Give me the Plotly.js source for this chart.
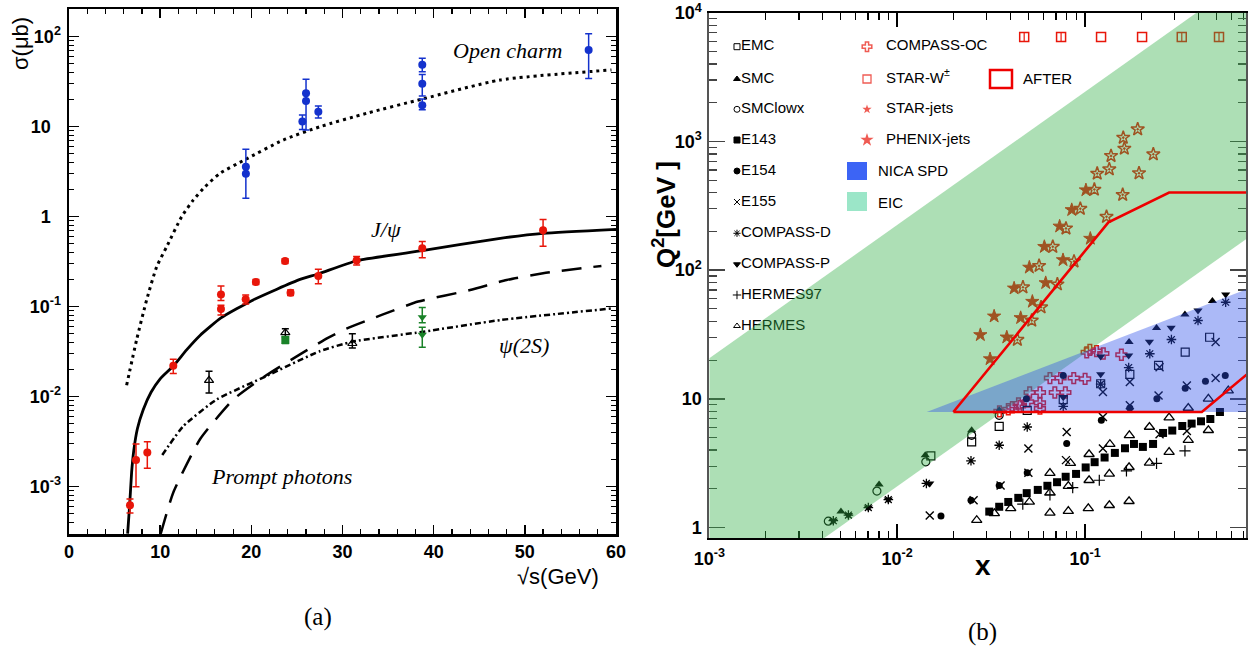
<!DOCTYPE html>
<html><head><meta charset="utf-8">
<script src="https://cdn.plot.ly/plotly-3.0.1.min.js"></script>
<style>html,body{margin:0;padding:0;background:#fff}#chart{width:1248px;height:648px}</style>
</head><body><div id="chart"></div>
<script>
// ================= Panel (a) data =================
const ocX = [6.32,7.42,8.52,9.62,10.72,12.36,13.63,14.92,16.56,19.38,23.5,27.53,32.65,38.75,47.27,59.5];
const ocY = [0.0134,0.043,0.119,0.278,0.465,1.0,1.53,2.15,3.03,4.34,7.11,10.0,14.1,20.3,33.0,42.7];
const jpX = [6.43,6.65,6.87,7.1,7.5,8.15,9.0,10.0,11.44,12.9,14.37,16.67,20.2,25.34,27.35,31.55,38.75,47.3,52,60];
const jpY = [3.0e-4,6.2e-4,1.45e-3,2.5e-3,4.4e-3,7.2e-3,0.0112,0.0158,0.0219,0.0331,0.0479,0.075,0.119,0.201,0.231,0.324,0.419,0.575,0.653,0.723];
const phX = [10.06,11.44,14.37,18.02,21.68,25.34,28.4,30.5,34.3,38.3,44,48,52,58.4];
const phY = [3.0e-4,8.6e-4,3.36e-3,9.3e-3,0.0174,0.0295,0.045,0.0575,0.081,0.114,0.153,0.198,0.235,0.284];
const psX = [10.23,12.54,16.2,21.68,27.5,31.08,38.86,47.3,59.7];
const psY = [2.25e-3,4.7e-3,9.3e-3,0.017,0.032,0.0408,0.0527,0.071,0.096];

const ocDataX = [19.4,19.4,25.6,26.0,26.0,27.35,38.75,38.75,38.75,57.0];
const ocDataY = [3.6,3.0,11.4,23.5,19.3,14.7,48.9,30.0,17.3,71.0];
const ocErrP  = [2.0,0.6,2.1,10.1,4.2,2.3,8.6,8.0,3.0,37];
const ocErrM  = [0.6,1.4,2.1,4.2,10.1,2.2,8.0,8.0,1.9,36.6];

const jpDataX = [6.69,7.35,8.59,11.44,16.67,16.67,19.38,20.5,23.7,24.3,27.35,31.55,38.75,52.0];
const jpDataY = [6.2e-4,1.98e-3,2.39e-3,0.0221,0.137,0.094,0.121,0.188,0.322,0.143,0.219,0.325,0.445,0.706];
const jpErrP  = [1.1e-4,1.0e-3,0.77e-3,0.004,0.033,0.01,0.014,0.012,0.02,0.01,0.041,0.035,0.085,0.224];
const jpErrM  = [1.1e-4,0.98e-3,0.79e-3,0.004,0.02,0.013,0.014,0.012,0.02,0.01,0.039,0.035,0.095,0.236];

const psDataX = [15.36,23.73,31.08];
const psDataY = [0.0152,0.0514,0.039];
const psErrP  = [0.004,0.0056,0.011];
const psErrM  = [0.0042,0.006,0.0043];

const grDataX = [23.73,38.75,38.75];
const grDataY = [0.0426,0.0762,0.0489];
const grErrP  = [0.004,0.022,0.01];
const grErrM  = [0.0036,0.01,0.0135];
const grSym   = ['square','triangle-down','triangle-down'];

// ================= Panel (b) data =================
const emcX = [0.0151,0.0249,0.0349,0.0492,0.0765,0.121,0.173,0.246,0.341,0.46];
const emcQ = [3.60,4.63,6.12,8.14,9.86,13.1,15.5,18.2,23.1,30.1];
const smcX = [0.00502,0.00801,0.0141,0.0249,0.0349,0.1714,0.24,0.34,0.476];
const smcQ = [1.33,2.16,3.65,5.70,8.14,27.7,35.5,45.2,57.5];
const smclX = [0.0043,0.0078,0.0142,0.0249,0.0349];
const smclQ = [1.12,1.92,3.24,5.21,7.45];
const e143X = [0.0309,0.0349,0.039,0.0441,0.0489,0.056,0.063,0.0709,0.0788,0.0895,0.1007,0.1124,0.127,0.144,0.163,0.182,0.203,0.23,0.26,0.291,0.329,0.369,0.414,0.464,0.522];
const e143Q = [1.33,1.45,1.58,1.70,1.85,1.96,2.11,2.25,2.48,2.61,2.93,3.22,3.50,3.80,4.13,4.46,4.23,4.46,5.43,5.67,6.15,6.42,6.69,6.97,7.90];
const e154X = [0.0171,0.0247,0.0349,0.0492,0.0798,0.122,0.0487,0.0765,0.173,0.241,0.341,0.437,0.557];
const e154Q = [1.23,1.63,2.12,2.66,4.49,6.81,10.0,15.2,8.49,10.0,12.1,13.7,15.2];
const e155X = [0.0149,0.0255,0.0355,0.0499,0.0499,0.0798,0.0791,0.1244,0.1244,0.1244,0.173,0.173,0.249,0.246,0.249,0.348,0.348,0.495,0.495];
const e155Q = [1.24,1.63,2.12,2.66,4.11,5.53,3.34,4.11,7.22,11.3,13.5,8.91,17.6,10.6,5.31,12.7,5.63,27.6,14.5];
const cdX = [0.00457,0.0055,0.00702,0.00897,0.0143,0.0247,0.0349,0.0492,0.0765,0.121,0.1706,0.221,0.288,0.399,0.56];
const cdQ = [1.13,1.25,1.43,1.65,2.2,3.30,4.36,6.04,8.75,13.0,17.5,22.4,28.9,40.6,56.3];
const cpX = [0.00457,0.0055,0.00702,0.00897,0.0149,0.0765,0.121,0.121,0.1706,0.22,0.287,0.399,0.56];
const cpQ = [1.13,1.25,1.43,1.65,2.2,10.3,15.5,21.3,21.7,27.8,35.6,48.5,64.6];
const h97X = [0.0466,0.065,0.0859,0.119,0.166,0.24,0.34];
const h97Q = [1.52,1.79,2.04,2.33,2.76,3.15,3.94];
const hermX = [0.0265,0.0329,0.0402,0.065,0.0814,0.104,0.1346,0.1714,0.0505,0.065,0.0814,0.105,0.1346,0.1714,0.22,0.28,0.354,0.453,0.065,0.0836,0.105,0.1355,0.172,0.22,0.28,0.354,0.453,0.578];
const hermQ = [1.14,1.29,1.41,1.30,1.34,1.41,1.49,1.60,1.58,1.87,2.10,2.33,2.61,2.94,3.18,3.85,4.77,5.70,2.65,3.16,3.71,4.44,5.21,6.04,7.15,8.49,10.0,11.6];
const cocX = [0.039,0.0442,0.0497,0.0575,0.0575,0.0507,0.0575,0.069,0.0785,0.065,0.074,0.087,0.1,0.102,0.106,0.115,0.125,0.156,0.035,0.041,0.045];
const cocQ = [8.3,9.2,9.5,9.3,8.4,11.2,11.2,11.2,11.2,14.5,14.5,14.5,14.3,23,24,23.5,22.5,22,8.0,8.6,8.8];
const starWX = [0.0474,0.0745,0.1216,0.201,0.327,0.516];
const starWQ = [6490,6490,6490,6490,6490,6490];
const phenixX = [0.0277,0.0312,0.0328,0.0383,0.0419,0.0454,0.0505,0.0524,0.0607,0.0617,0.0732,0.0763,0.0849,0.101,0.1066];
const phenixQ = [31.4,20.4,43.8,30.1,72.3,42.6,105,57,152,79.6,219,120,294,419,176];
const starJX = [0.0436,0.0467,0.052,0.0569,0.0583,0.0673,0.0712,0.0791,0.0873,0.0943,0.112,0.116,0.13,0.1345,0.1374,0.1585,0.1596,0.1617,0.1905,0.1936,0.2307];
const starJQ = [28.8,73.6,40.6,108,51.5,152,77.6,211,117,300,423,563,260,608,772,385,1070,880,1244,567,796];

const eicX = [0.001,1,1,0.001];
const eicQ = [20.7,26400,245,0.193];
const nicaX = [0.01435,1,1];
const nicaQ = [7.9,85,7.9];
const afterX = [0.0199,0.133,0.280,1,1,0.418,0.0199];
const afterQ = [7.9,235,401,401,22.9,7.9,7.9];

const legLeftNames = ['EMC','SMC','SMClowx','E143','E154','E155','COMPASS-D','COMPASS-P','HERMES97','HERMES'];
const legLeftSym = ['square-open','triangle-up','circle-open','square','circle','x-thin-open','asterisk-open','triangle-down','cross-thin-open','triangle-up-open'];
const legRightNames = ['COMPASS-OC','STAR-W<sup>±</sup>','STAR-jets','PHENIX-jets'];
const legRightSym = ['cross-open','square-open','star','star'];

// ================= geometry =================
const W = 1248, H = 648;
const AX = {l:69, r:616, t:9, b:534};
const BX = {l:709.3, r:1246, t:12.7, b:538};
const xr2 = [-3, -3 + (BX.r - BX.l)/187.9];
const yr2 = [(527.5 - BX.b)/129, 4.0005];
function lx(px){ return Math.pow(10, xr2[0] + (px - BX.l)/(BX.r - BX.l)*(xr2[1]-xr2[0])); }
function ly(py){ return Math.pow(10, yr2[0] + (BX.b - py)/(BX.b - BX.t)*(yr2[1]-yr2[0])); }
const legYL = [46.7,79,109.3,140,171,202,233.3,264.3,295,326];
const legYR = [46.7,79,109.3,140];

const SANS = 'Liberation Sans, Arial, Helvetica, sans-serif';
const SERIF = 'Liberation Serif, Times New Roman, serif';
const RED = 'rgb(232,22,10)';
const BLUE = 'rgb(20,50,205)';
const GREEN = 'rgb(25,130,40)';

function logMinor(d0, d1){ const a=[]; for(let d=d0; d<=d1; d++) for(let m=2; m<=9; m++) a.push(m*Math.pow(10,d)); return a; }
const xMinorA = []; for(let v=0; v<=60; v+=2) if(v%10) xMinorA.push(v);

const traces = [];
// ---- panel (a) curves ----
traces.push({x:ocX, y:ocY, mode:'lines', line:{color:'#000', width:3, dash:'3px,4px', shape:'spline', smoothing:0.6}, xaxis:'x', yaxis:'y', hoverinfo:'skip'});
traces.push({x:jpX, y:jpY, mode:'lines', line:{color:'#000', width:2.8, shape:'spline', smoothing:0.5}, xaxis:'x', yaxis:'y', hoverinfo:'skip'});
traces.push({x:phX, y:phY, mode:'lines', line:{color:'#000', width:2.5, dash:'20px,12px', shape:'spline', smoothing:0.5}, xaxis:'x', yaxis:'y', hoverinfo:'skip'});
traces.push({x:psX, y:psY, mode:'lines', line:{color:'#000', width:2.5, dash:'6px,3px,2px,3px', shape:'spline', smoothing:0.5}, xaxis:'x', yaxis:'y', hoverinfo:'skip'});
// ---- panel (a) data ----
function errPts(x,y,ep,em,color,sym,size,open){
  return {x:x, y:y, mode:'markers', xaxis:'x', yaxis:'y', hoverinfo:'skip',
    marker:{symbol:sym, size:size, color:color, line:{color:color, width:open?1.2:0}},
    error_y:{type:'data', array:ep, arrayminus:em, visible:true, color:color, thickness:1.5, width:3.5}};
}
traces.push(errPts(ocDataX, ocDataY, ocErrP, ocErrM, BLUE, 'circle', 8, false));
traces.push(errPts(jpDataX, jpDataY, jpErrP, jpErrM, RED, 'circle', 8, false));
traces.push(errPts(psDataX, psDataY, psErrP, psErrM, '#000', 'triangle-up-open', 8, true));
traces.push(errPts(grDataX, grDataY, grErrP, grErrM, GREEN, grSym, 8, false));

// ---- panel (b) data markers ----
function pts(x,y,sym,size,color,lw){
  return {x:x, y:y, mode:'markers', xaxis:'x2', yaxis:'y2', hoverinfo:'skip',
    marker:{symbol:sym, size:size, color:color||'#000', line:{color:color||'#000', width:lw===undefined?1.2:lw}}};
}
traces.push(pts(starWX, starWQ, 'square-open', 9, RED, 1.5));
traces.push(pts([starWX[0],starWX[1],starWX[4],starWX[5]], [starWQ[0],starWQ[1],starWQ[4],starWQ[5]], 'line-ns-open', 7, RED, 1.2));
traces.push(pts(phenixX, phenixQ, 'star', 10, RED, 1));
traces.push(pts(starJX, starJQ, 'star-open-dot', 10, RED, 1.5));
traces.push(pts(cocX, cocQ, 'cross-open', 9, RED, 1.5));
traces.push(pts(emcX, emcQ, 'square-open', 8));
traces.push(pts(smcX, smcQ, 'triangle-up', 8, '#000', 0));
traces.push(pts(smclX, smclQ, 'circle-open', 8));
traces.push(pts(e143X, e143Q, 'square', 8, '#000', 0));
traces.push(pts(e154X, e154Q, 'circle', 7, '#000', 0));
traces.push(pts(e155X, e155Q, 'x-thin-open', 8, '#000', 1.4));
traces.push(pts(cdX, cdQ, 'asterisk-open', 8, '#000', 1.3));
traces.push(pts(cpX, cpQ, 'triangle-down', 8, '#000', 0));
traces.push(pts(h97X, h97Q, 'cross-thin-open', 8, '#000', 1.2));
traces.push(pts(hermX, hermQ, 'triangle-up-open', 9, '#000', 1.3));

// ---- legend (drawn inside the panel, under the coloured bands) ----
traces.push({x:legYL.map(()=>lx(737)), y:legYL.map(ly), mode:'markers', xaxis:'x2', yaxis:'y2', hoverinfo:'skip',
  marker:{symbol:legLeftSym, size:6, color:'#000', line:{color:'#000', width:1}}});
traces.push({x:legYL.map(()=>lx(741)), y:legYL.map(ly), mode:'text', text:legLeftNames, textposition:'middle right',
  textfont:{family:SANS, size:15, color:'#000'}, xaxis:'x2', yaxis:'y2', hoverinfo:'skip'});
traces.push({x:legYR.map(()=>lx(867)), y:legYR.map(ly), mode:'markers', xaxis:'x2', yaxis:'y2', hoverinfo:'skip',
  marker:{symbol:legRightSym, size:[8,8,7,10], color:RED, line:{color:RED, width:[1.5,1.3,0,0]}}});
traces.push({x:legYR.map(()=>lx(886)), y:legYR.map(ly), mode:'text', text:legRightNames, textposition:'middle right',
  textfont:{family:SANS, size:15, color:'#000'}, xaxis:'x2', yaxis:'y2', hoverinfo:'skip'});

// ---- bands ----
traces.push({x:eicX, y:eicQ, mode:'lines', fill:'toself', fillcolor:'rgba(50,175,70,0.4)', line:{width:0, color:'rgba(0,0,0,0)'}, xaxis:'x2', yaxis:'y2', hoverinfo:'skip'});
traces.push({x:nicaX, y:nicaQ, mode:'lines', fill:'toself', fillcolor:'rgba(45,80,235,0.4)', line:{width:0, color:'rgba(0,0,0,0)'}, xaxis:'x2', yaxis:'y2', hoverinfo:'skip'});
traces.push({x:afterX, y:afterQ, mode:'lines', line:{color:'rgb(238,0,0)', width:2.6}, xaxis:'x2', yaxis:'y2', hoverinfo:'skip'});

const tickFontA = {family:SANS, size:18, color:'#000', weight:'bold'};
function ann(text, px, py, font, extra){
  return Object.assign({text:text, x:px/W, y:1-py/H, xref:'paper', yref:'paper', xanchor:'center', yanchor:'middle', showarrow:false, font:font}, extra||{});
}
const layout = {
  width:W, height:H, margin:{l:0,r:0,t:0,b:0}, paper_bgcolor:'#fff', plot_bgcolor:'rgba(0,0,0,0)', showlegend:false,
  xaxis:{domain:[AX.l/W, AX.r/W], range:[0,60], anchor:'y', tickmode:'array', tickvals:[0,10,20,30,40,50,60],
    ticks:'inside', ticklen:9, tickwidth:1.5, tickcolor:'#000',
    minor:{tickmode:'array', tickvals:xMinorA, ticks:'inside', ticklen:5, tickwidth:1.2, tickcolor:'#000', showgrid:false},
    showline:true, linewidth:2.5, linecolor:'#000', mirror:'allticks', showgrid:false, zeroline:false, tickfont:tickFontA, ticklabelstandoff:0},
  yaxis:{domain:[1-AX.b/H, 1-AX.t/H], type:'log', range:[-3.526, 2.308], anchor:'x', tickmode:'array',
    tickvals:[1e-3,1e-2,1e-1,1,10,100], ticktext:['10<sup>-3</sup>','10<sup>-2</sup>','10<sup>-1</sup>','1\u2007','10\u2007','10<sup>2</sup>'],
    ticks:'inside', ticklen:10, tickwidth:1.5, tickcolor:'#000',
    minor:{tickmode:'array', tickvals:logMinor(-4,2), ticks:'inside', ticklen:5, tickwidth:1.2, tickcolor:'#000', showgrid:false},
    showline:true, linewidth:2.5, linecolor:'#000', mirror:'allticks', showgrid:false, zeroline:false, tickfont:tickFontA, ticklabelstandoff:2},
  xaxis2:{domain:[BX.l/W, BX.r/W], type:'log', range:xr2, anchor:'y2', tickmode:'array',
    tickvals:[1e-3,1e-2,1e-1], ticktext:['10<sup>-3</sup>','10<sup>-2</sup>','10<sup>-1</sup>'],
    ticks:'inside', ticklen:14, tickwidth:1.5, tickcolor:'#000',
    minor:{tickmode:'array', tickvals:logMinor(-3,0), ticks:'inside', ticklen:7, tickwidth:1.2, tickcolor:'#000', showgrid:false},
    showline:true, linewidth:2, linecolor:'#000', mirror:'allticks', showgrid:false, zeroline:false, tickfont:tickFontA, layer:'below traces', ticklabelstandoff:3},
  yaxis2:{domain:[1-BX.b/H, 1-BX.t/H], type:'log', range:yr2, anchor:'x2', tickmode:'array',
    tickvals:[1,10,100,1000,10000], ticktext:['1','10','10<sup>2</sup>','10<sup>3</sup>','10<sup>4</sup>'],
    ticks:'inside', ticklen:16, tickwidth:1.5, tickcolor:'#444',
    minor:{tickmode:'array', tickvals:logMinor(0,3), ticks:'inside', ticklen:8, tickwidth:1.2, tickcolor:'#444', showgrid:false},
    showline:true, linewidth:2, linecolor:'#555', mirror:'allticks', showgrid:false, zeroline:false, tickfont:tickFontA, layer:'below traces', ticklabelstandoff:2},
  shapes:[
    {type:'rect', xref:'paper', yref:'paper', x0:847/W, x1:867/W, y0:1-180/H, y1:1-162/H, fillcolor:'rgb(60,100,245)', line:{width:0}},
    {type:'rect', xref:'paper', yref:'paper', x0:847/W, x1:867/W, y0:1-211/H, y1:1-192/H, fillcolor:'rgb(155,230,200)', line:{width:0}},
    {type:'rect', xref:'paper', yref:'paper', x0:990/W, x1:1012/W, y0:1-88/H, y1:1-70/H, fillcolor:'rgba(0,0,0,0)', line:{color:'rgb(238,0,0)', width:2.5}}
  ],
  annotations:[
    ann('NICA SPD', 876, 171, {family:SANS, size:15, color:'#000'}, {xanchor:'left'}),
    ann('EIC', 876, 202, {family:SANS, size:15, color:'#000'}, {xanchor:'left'}),
    ann('AFTER', 1021, 79, {family:SANS, size:15, color:'#000'}, {xanchor:'left'}),
    ann('<i>Open charm</i>', 507, 50, {family:SERIF, size:22, color:'#000'}),
    ann('<i>J/ψ</i>', 386, 229, {family:SERIF, size:22, color:'#000'}),
    ann('<i>ψ(2S)</i>', 524, 345, {family:SERIF, size:22, color:'#000'}),
    ann('<i>Prompt photons</i>', 281, 476, {family:SERIF, size:22, color:'#000'}),
    ann('σ(μb)', 21, 44, {family:SANS, size:22, color:'#000'}, {textangle:-90}),
    ann('√s(GeV)', 558, 576, {family:SANS, size:22, color:'#000'}),
    ann('(a)', 318, 617, {family:SERIF, size:25, color:'#000'}),
    ann('(b)', 982, 632, {family:SERIF, size:25, color:'#000'}),
    ann('Q<sup>2</sup>[GeV ]', 664, 215, {family:SANS, size:26, color:'#000', weight:'bold'}, {textangle:-90}),
    ann('x', 983, 565, {family:SANS, size:28, color:'#000', weight:'bold'})
  ]
};
Plotly.newPlot('chart', traces, layout, {displayModeBar:false, staticPlot:true});
</script>
</body></html>
